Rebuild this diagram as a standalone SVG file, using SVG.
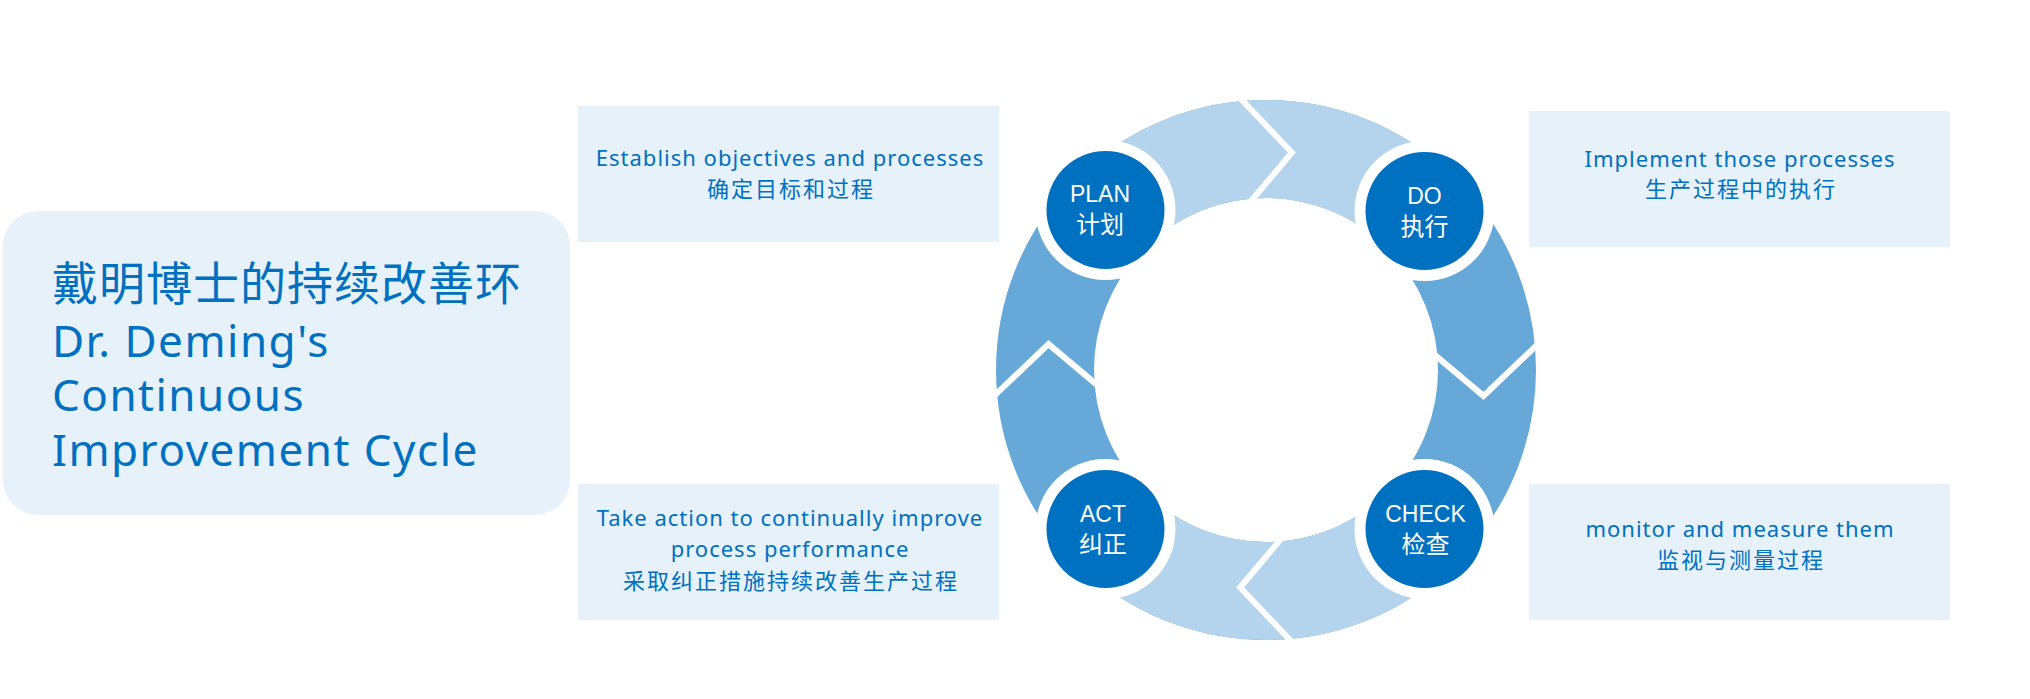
<svg xmlns="http://www.w3.org/2000/svg" xmlns:xlink="http://www.w3.org/1999/xlink" width="2030" height="699" viewBox="0 0 2030 699">
  <defs>
    <style>
      .box { fill: #e6f1f9; }
      .btxt { font-family: "Noto Sans", "Noto Sans CJK SC", sans-serif; font-size: 22px; fill: #0070c0; text-anchor: middle; letter-spacing: 1px; }
      .bcjk { font-family: "Noto Sans CJK SC", sans-serif; font-size: 22px; fill: #0070c0; text-anchor: middle; letter-spacing: 2px; }
      .title { font-family: "Noto Sans", "Noto Sans CJK SC", sans-serif; font-size: 44px; fill: #0070c0; letter-spacing: 1.5px; }
      .tcjk { font-family: "Noto Sans CJK SC", sans-serif; font-size: 46px; fill: #0070c0; letter-spacing: 1px; }
      .ring-mid { fill: none; stroke: #66a9d9; stroke-width: 98; }
      .ring-light { fill: none; stroke: #b3d4ec; stroke-width: 98; }
      .chev { fill: none; stroke: #ffffff; stroke-width: 6; stroke-linejoin: miter; }
      .halo { fill: #ffffff; }
      .disc { fill: #0070c0; }
      .ntxt { font-family: "Liberation Sans", Arial, sans-serif; font-size: 23px; fill: #ffffff; text-anchor: middle; }
      .ncjk { font-family: "Noto Sans CJK SC", sans-serif; font-size: 24px; fill: #ffffff; text-anchor: middle; }
    </style>
    <polyline id="chevron" class="chev" points="1239.3,97.3 1291.9,152.5 1249.6,202.8"/>
  </defs>
  <rect width="2030" height="699" fill="#ffffff"/>

  <g id="title">
    <rect x="3" y="211" width="567" height="304" rx="35" class="box"/>
    <text x="52" y="300" class="tcjk">戴明博士的持续改善环</text>
    <text x="52" y="357" class="title">Dr. Deming's</text>
    <text x="52" y="411" class="title">Continuous</text>
    <text x="52" y="466" class="title">Improvement Cycle</text>
  </g>

  <g id="box-plan">
    <rect x="578" y="106" width="421" height="136" class="box"/>
    <text x="790" y="166" class="btxt">Establish objectives and processes</text>
    <text x="791" y="197" class="bcjk">确定目标和过程</text>
  </g>
  <g id="box-do">
    <rect x="1529" y="111" width="421" height="136" class="box"/>
    <text x="1740" y="167" class="btxt">Implement those processes</text>
    <text x="1741" y="197" class="bcjk">生产过程中的执行</text>
  </g>
  <g id="box-act">
    <rect x="578" y="484" width="421" height="136" class="box"/>
    <text x="790" y="526" class="btxt">Take action to continually improve</text>
    <text x="790" y="557" class="btxt">process performance</text>
    <text x="791" y="589" class="bcjk">采取纠正措施持续改善生产过程</text>
  </g>
  <g id="box-check">
    <rect x="1529" y="484" width="421" height="136" class="box"/>
    <text x="1740" y="537" class="btxt">monitor and measure them</text>
    <text x="1741" y="568" class="bcjk">监视与测量过程</text>
  </g>

  <g id="connectors">
    <circle cx="1266" cy="370" r="221" class="ring-mid"/>
    <path d="M1109.73 213.73 A221 221 0 0 1 1422.27 213.73" class="ring-light"/>
    <path d="M1422.27 526.27 A221 221 0 0 1 1109.73 526.27" class="ring-light"/>
    <use xlink:href="#chevron"/>
    <use xlink:href="#chevron" transform="rotate(90 1266 370)"/>
    <use xlink:href="#chevron" transform="rotate(180 1266 370)"/>
    <use xlink:href="#chevron" transform="rotate(270 1266 370)"/>
  </g>

  <g id="node-plan">
    <circle cx="1105.5" cy="210" r="70" class="halo"/>
    <circle cx="1105.5" cy="210" r="59" class="disc"/>
    <text x="1100" y="201.5" class="ntxt">PLAN</text>
    <text x="1100" y="233" class="ncjk">计划</text>
  </g>
  <g id="node-do">
    <circle cx="1424.5" cy="211" r="70" class="halo"/>
    <circle cx="1424.5" cy="211" r="59" class="disc"/>
    <text x="1424.5" y="203.5" class="ntxt">DO</text>
    <text x="1424.5" y="235" class="ncjk">执行</text>
  </g>
  <g id="node-act">
    <circle cx="1105.5" cy="529" r="70" class="halo"/>
    <circle cx="1105.5" cy="529" r="59" class="disc"/>
    <text x="1103" y="521.5" class="ntxt">ACT</text>
    <text x="1103" y="553" class="ncjk">纠正</text>
  </g>
  <g id="node-check">
    <circle cx="1424.5" cy="529" r="70" class="halo"/>
    <circle cx="1424.5" cy="529" r="59" class="disc"/>
    <text x="1425.5" y="521.5" class="ntxt">CHECK</text>
    <text x="1425.5" y="553" class="ncjk">检查</text>
  </g>
</svg>
